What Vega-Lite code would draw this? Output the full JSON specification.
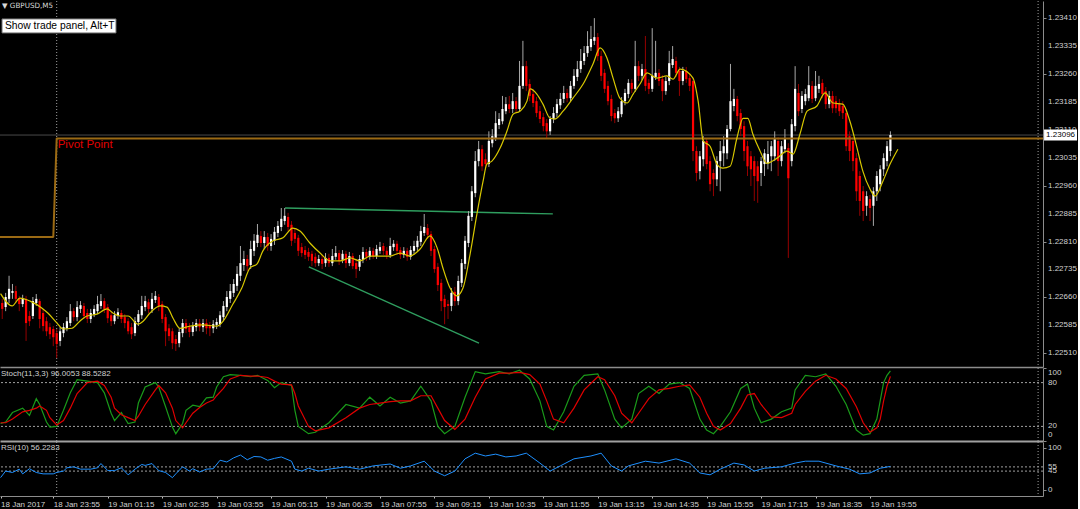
{
"$schema": "https://vega.github.io/schema/vega-lite/v6.json",
"background": "#000000",
"padding": {"left": -3, "top": 0, "right": 0, "bottom": 0},
"spacing": 1,
"bounds": "flush",
"config": {
  "view": {"stroke": "transparent"},
  "axis": {"grid": false, "domainColor": "#8c8c8c", "tickColor": "#8c8c8c", "labelColor": "#d0d0d0", "labelFont": "Liberation Sans", "labelFontSize": 8, "labelOverlap": false},
  "text": {"font": "Liberation Sans"}
},
"datasets": {
"c": [
{"n":1,"o":1.22645,"h":1.22656,"l":1.22602,"c":1.22629},
{"n":2,"o":1.22634,"h":1.22672,"l":1.22623,"c":1.22661},
{"n":3,"o":1.22656,"h":1.22718,"l":1.22645,"c":1.22683},
{"n":4,"o":1.22672,"h":1.22696,"l":1.22656,"c":1.22677},
{"n":5,"o":1.22677,"h":1.22691,"l":1.22645,"c":1.22656},
{"n":6,"o":1.22658,"h":1.22664,"l":1.22623,"c":1.22642},
{"n":7,"o":1.22642,"h":1.22667,"l":1.22634,"c":1.22656},
{"n":8,"o":1.22656,"h":1.22664,"l":1.22543,"c":1.22591},
{"n":9,"o":1.22610,"h":1.22623,"l":1.22583,"c":1.22596},
{"n":10,"o":1.22610,"h":1.22661,"l":1.22602,"c":1.22650},
{"n":11,"o":1.22645,"h":1.22669,"l":1.22637,"c":1.22656},
{"n":12,"o":1.22650,"h":1.22656,"l":1.22577,"c":1.22602},
{"n":13,"o":1.22618,"h":1.22629,"l":1.22569,"c":1.22583},
{"n":14,"o":1.22596,"h":1.22607,"l":1.22556,"c":1.22569},
{"n":15,"o":1.22580,"h":1.22591,"l":1.22548,"c":1.22561},
{"n":16,"o":1.22575,"h":1.22583,"l":1.22529,"c":1.22553},
{"n":17,"o":1.22564,"h":1.22575,"l":1.22497,"c":1.22535},
{"n":18,"o":1.22543,"h":1.22580,"l":1.22529,"c":1.22569},
{"n":19,"o":1.22564,"h":1.22591,"l":1.22553,"c":1.22580},
{"n":20,"o":1.22577,"h":1.22607,"l":1.22569,"c":1.22596},
{"n":21,"o":1.22591,"h":1.22642,"l":1.22583,"c":1.22623},
{"n":22,"o":1.22623,"h":1.22631,"l":1.22596,"c":1.22607},
{"n":23,"o":1.22607,"h":1.22650,"l":1.22596,"c":1.22634},
{"n":24,"o":1.22629,"h":1.22650,"l":1.22618,"c":1.22639},
{"n":25,"o":1.22637,"h":1.22645,"l":1.22602,"c":1.22610},
{"n":26,"o":1.22618,"h":1.22629,"l":1.22591,"c":1.22602},
{"n":27,"o":1.22602,"h":1.22629,"l":1.22591,"c":1.22618},
{"n":28,"o":1.22615,"h":1.22639,"l":1.22607,"c":1.22629},
{"n":29,"o":1.22623,"h":1.22664,"l":1.22615,"c":1.22642},
{"n":30,"o":1.22637,"h":1.22669,"l":1.22629,"c":1.22650},
{"n":31,"o":1.22650,"h":1.22658,"l":1.22618,"c":1.22629},
{"n":32,"o":1.22634,"h":1.22642,"l":1.22591,"c":1.22604},
{"n":33,"o":1.22612,"h":1.22623,"l":1.22583,"c":1.22596},
{"n":34,"o":1.22596,"h":1.22623,"l":1.22588,"c":1.22612},
{"n":35,"o":1.22610,"h":1.22631,"l":1.22602,"c":1.22620},
{"n":36,"o":1.22618,"h":1.22626,"l":1.22591,"c":1.22602},
{"n":37,"o":1.22607,"h":1.22615,"l":1.22577,"c":1.22591},
{"n":38,"o":1.22596,"h":1.22604,"l":1.22561,"c":1.22569},
{"n":39,"o":1.22580,"h":1.22591,"l":1.22548,"c":1.22561},
{"n":40,"o":1.22564,"h":1.22607,"l":1.22556,"c":1.22596},
{"n":41,"o":1.22594,"h":1.22626,"l":1.22583,"c":1.22615},
{"n":42,"o":1.22612,"h":1.22664,"l":1.22602,"c":1.22637},
{"n":43,"o":1.22634,"h":1.22664,"l":1.22623,"c":1.22650},
{"n":44,"o":1.22647,"h":1.22656,"l":1.22618,"c":1.22629},
{"n":45,"o":1.22629,"h":1.22672,"l":1.22618,"c":1.22656},
{"n":46,"o":1.22653,"h":1.22677,"l":1.22645,"c":1.22664},
{"n":47,"o":1.22661,"h":1.22669,"l":1.22623,"c":1.22637},
{"n":48,"o":1.22642,"h":1.22650,"l":1.22591,"c":1.22602},
{"n":49,"o":1.22607,"h":1.22615,"l":1.22529,"c":1.22569},
{"n":50,"o":1.22577,"h":1.22588,"l":1.22543,"c":1.22556},
{"n":51,"o":1.22569,"h":1.22577,"l":1.22521,"c":1.22537},
{"n":52,"o":1.22548,"h":1.22559,"l":1.22516,"c":1.22535},
{"n":53,"o":1.22537,"h":1.22577,"l":1.22526,"c":1.22567},
{"n":54,"o":1.22564,"h":1.22602,"l":1.22553,"c":1.22591},
{"n":55,"o":1.22591,"h":1.22602,"l":1.22564,"c":1.22575},
{"n":56,"o":1.22580,"h":1.22591,"l":1.22553,"c":1.22567},
{"n":57,"o":1.22567,"h":1.22594,"l":1.22556,"c":1.22583},
{"n":58,"o":1.22580,"h":1.22602,"l":1.22569,"c":1.22591},
{"n":59,"o":1.22591,"h":1.22602,"l":1.22569,"c":1.22580},
{"n":60,"o":1.22580,"h":1.22602,"l":1.22567,"c":1.22591},
{"n":61,"o":1.22591,"h":1.22602,"l":1.22561,"c":1.22577},
{"n":62,"o":1.22583,"h":1.22594,"l":1.22556,"c":1.22577},
{"n":63,"o":1.22577,"h":1.22599,"l":1.22564,"c":1.22588},
{"n":64,"o":1.22586,"h":1.22604,"l":1.22575,"c":1.22594},
{"n":65,"o":1.22588,"h":1.22623,"l":1.22580,"c":1.22612},
{"n":66,"o":1.22607,"h":1.22650,"l":1.22596,"c":1.22637},
{"n":67,"o":1.22634,"h":1.22677,"l":1.22623,"c":1.22661},
{"n":68,"o":1.22656,"h":1.22696,"l":1.22645,"c":1.22677},
{"n":69,"o":1.22672,"h":1.22709,"l":1.22661,"c":1.22696},
{"n":70,"o":1.22691,"h":1.22744,"l":1.22677,"c":1.22723},
{"n":71,"o":1.22718,"h":1.22798,"l":1.22704,"c":1.22752},
{"n":72,"o":1.22747,"h":1.22785,"l":1.22731,"c":1.22763},
{"n":73,"o":1.22763,"h":1.22774,"l":1.22731,"c":1.22744},
{"n":74,"o":1.22747,"h":1.22812,"l":1.22736,"c":1.22790},
{"n":75,"o":1.22785,"h":1.22830,"l":1.22771,"c":1.22812},
{"n":76,"o":1.22806,"h":1.22857,"l":1.22795,"c":1.22828},
{"n":77,"o":1.22825,"h":1.22838,"l":1.22795,"c":1.22806},
{"n":78,"o":1.22806,"h":1.22838,"l":1.22790,"c":1.22822},
{"n":79,"o":1.22822,"h":1.22833,"l":1.22785,"c":1.22798},
{"n":80,"o":1.22798,"h":1.22830,"l":1.22785,"c":1.22817},
{"n":81,"o":1.22812,"h":1.22849,"l":1.22801,"c":1.22836},
{"n":82,"o":1.22833,"h":1.22865,"l":1.22822,"c":1.22852},
{"n":83,"o":1.22849,"h":1.22900,"l":1.22838,"c":1.22871},
{"n":84,"o":1.22865,"h":1.22900,"l":1.22855,"c":1.22879},
{"n":85,"o":1.22876,"h":1.22887,"l":1.22838,"c":1.22849},
{"n":86,"o":1.22855,"h":1.22865,"l":1.22798,"c":1.22812},
{"n":87,"o":1.22833,"h":1.22844,"l":1.22806,"c":1.22817},
{"n":88,"o":1.22820,"h":1.22828,"l":1.22771,"c":1.22785},
{"n":89,"o":1.22795,"h":1.22806,"l":1.22769,"c":1.22779},
{"n":90,"o":1.22787,"h":1.22798,"l":1.22763,"c":1.22774},
{"n":91,"o":1.22782,"h":1.22793,"l":1.22758,"c":1.22769},
{"n":92,"o":1.22777,"h":1.22785,"l":1.22744,"c":1.22758},
{"n":93,"o":1.22769,"h":1.22779,"l":1.22742,"c":1.22752},
{"n":94,"o":1.22752,"h":1.22774,"l":1.22744,"c":1.22763},
{"n":95,"o":1.22763,"h":1.22774,"l":1.22736,"c":1.22750},
{"n":96,"o":1.22752,"h":1.22779,"l":1.22742,"c":1.22766},
{"n":97,"o":1.22766,"h":1.22777,"l":1.22742,"c":1.22752},
{"n":98,"o":1.22752,"h":1.22790,"l":1.22744,"c":1.22771},
{"n":99,"o":1.22769,"h":1.22798,"l":1.22761,"c":1.22779},
{"n":100,"o":1.22779,"h":1.22787,"l":1.22747,"c":1.22758},
{"n":101,"o":1.22761,"h":1.22787,"l":1.22752,"c":1.22777},
{"n":102,"o":1.22777,"h":1.22785,"l":1.22739,"c":1.22752},
{"n":103,"o":1.22752,"h":1.22782,"l":1.22744,"c":1.22771},
{"n":104,"o":1.22771,"h":1.22779,"l":1.22736,"c":1.22744},
{"n":105,"o":1.22752,"h":1.22763,"l":1.22712,"c":1.22736},
{"n":106,"o":1.22742,"h":1.22774,"l":1.22731,"c":1.22763},
{"n":107,"o":1.22761,"h":1.22795,"l":1.22752,"c":1.22782},
{"n":108,"o":1.22782,"h":1.22790,"l":1.22758,"c":1.22769},
{"n":109,"o":1.22769,"h":1.22795,"l":1.22761,"c":1.22785},
{"n":110,"o":1.22785,"h":1.22793,"l":1.22763,"c":1.22771},
{"n":111,"o":1.22771,"h":1.22801,"l":1.22763,"c":1.22790},
{"n":112,"o":1.22785,"h":1.22809,"l":1.22777,"c":1.22795},
{"n":113,"o":1.22798,"h":1.22806,"l":1.22774,"c":1.22785},
{"n":114,"o":1.22785,"h":1.22795,"l":1.22763,"c":1.22774},
{"n":115,"o":1.22774,"h":1.22820,"l":1.22766,"c":1.22798},
{"n":116,"o":1.22795,"h":1.22814,"l":1.22785,"c":1.22804},
{"n":117,"o":1.22804,"h":1.22812,"l":1.22774,"c":1.22785},
{"n":118,"o":1.22787,"h":1.22795,"l":1.22763,"c":1.22774},
{"n":119,"o":1.22774,"h":1.22795,"l":1.22766,"c":1.22785},
{"n":120,"o":1.22785,"h":1.22793,"l":1.22758,"c":1.22769},
{"n":121,"o":1.22769,"h":1.22798,"l":1.22761,"c":1.22787},
{"n":122,"o":1.22785,"h":1.22812,"l":1.22777,"c":1.22798},
{"n":123,"o":1.22795,"h":1.22825,"l":1.22785,"c":1.22812},
{"n":124,"o":1.22809,"h":1.22852,"l":1.22798,"c":1.22838},
{"n":125,"o":1.22833,"h":1.22884,"l":1.22825,"c":1.22849},
{"n":126,"o":1.22846,"h":1.22857,"l":1.22817,"c":1.22828},
{"n":127,"o":1.22830,"h":1.22838,"l":1.22771,"c":1.22785},
{"n":128,"o":1.22790,"h":1.22798,"l":1.22726,"c":1.22736},
{"n":129,"o":1.22742,"h":1.22752,"l":1.22677,"c":1.22693},
{"n":130,"o":1.22699,"h":1.22709,"l":1.22623,"c":1.22650},
{"n":131,"o":1.22656,"h":1.22667,"l":1.22588,"c":1.22634},
{"n":132,"o":1.22642,"h":1.22653,"l":1.22602,"c":1.22637},
{"n":133,"o":1.22637,"h":1.22685,"l":1.22623,"c":1.22672},
{"n":134,"o":1.22675,"h":1.22688,"l":1.22637,"c":1.22650},
{"n":135,"o":1.22650,"h":1.22718,"l":1.22639,"c":1.22704},
{"n":136,"o":1.22699,"h":1.22763,"l":1.22688,"c":1.22752},
{"n":137,"o":1.22750,"h":1.22825,"l":1.22736,"c":1.22812},
{"n":138,"o":1.22806,"h":1.22892,"l":1.22795,"c":1.22879},
{"n":139,"o":1.22876,"h":1.22959,"l":1.22865,"c":1.22945},
{"n":140,"o":1.22940,"h":1.23053,"l":1.22929,"c":1.23026},
{"n":141,"o":1.23026,"h":1.23080,"l":1.23012,"c":1.23058},
{"n":142,"o":1.23058,"h":1.23069,"l":1.22999,"c":1.23012},
{"n":143,"o":1.23031,"h":1.23047,"l":1.23004,"c":1.23018},
{"n":144,"o":1.23018,"h":1.23106,"l":1.23010,"c":1.23080},
{"n":145,"o":1.23074,"h":1.23112,"l":1.23063,"c":1.23093},
{"n":146,"o":1.23088,"h":1.23160,"l":1.23080,"c":1.23128},
{"n":147,"o":1.23123,"h":1.23155,"l":1.23112,"c":1.23139},
{"n":148,"o":1.23133,"h":1.23201,"l":1.23125,"c":1.23166},
{"n":149,"o":1.23160,"h":1.23198,"l":1.23152,"c":1.23179},
{"n":150,"o":1.23179,"h":1.23201,"l":1.23155,"c":1.23166},
{"n":151,"o":1.23166,"h":1.23209,"l":1.23155,"c":1.23187},
{"n":152,"o":1.23187,"h":1.23198,"l":1.23155,"c":1.23166},
{"n":153,"o":1.23166,"h":1.23295,"l":1.23160,"c":1.23228},
{"n":154,"o":1.23228,"h":1.23349,"l":1.23220,"c":1.23281},
{"n":155,"o":1.23281,"h":1.23295,"l":1.23214,"c":1.23228},
{"n":156,"o":1.23233,"h":1.23246,"l":1.23187,"c":1.23201},
{"n":157,"o":1.23206,"h":1.23220,"l":1.23171,"c":1.23182},
{"n":158,"o":1.23187,"h":1.23198,"l":1.23144,"c":1.23155},
{"n":159,"o":1.23160,"h":1.23174,"l":1.23128,"c":1.23139},
{"n":160,"o":1.23144,"h":1.23155,"l":1.23106,"c":1.23120},
{"n":161,"o":1.23128,"h":1.23139,"l":1.23088,"c":1.23106},
{"n":162,"o":1.23106,"h":1.23147,"l":1.23096,"c":1.23139},
{"n":163,"o":1.23139,"h":1.23171,"l":1.23128,"c":1.23155},
{"n":164,"o":1.23155,"h":1.23193,"l":1.23144,"c":1.23179},
{"n":165,"o":1.23176,"h":1.23209,"l":1.23166,"c":1.23193},
{"n":166,"o":1.23193,"h":1.23228,"l":1.23182,"c":1.23209},
{"n":167,"o":1.23209,"h":1.23220,"l":1.23184,"c":1.23195},
{"n":168,"o":1.23195,"h":1.23241,"l":1.23187,"c":1.23228},
{"n":169,"o":1.23228,"h":1.23273,"l":1.23220,"c":1.23255},
{"n":170,"o":1.23252,"h":1.23295,"l":1.23241,"c":1.23273},
{"n":171,"o":1.23273,"h":1.23327,"l":1.23263,"c":1.23295},
{"n":172,"o":1.23295,"h":1.23335,"l":1.23284,"c":1.23316},
{"n":173,"o":1.23316,"h":1.23375,"l":1.23306,"c":1.23335},
{"n":174,"o":1.23332,"h":1.23389,"l":1.23322,"c":1.23354},
{"n":175,"o":1.23349,"h":1.23410,"l":1.23338,"c":1.23359},
{"n":176,"o":1.23359,"h":1.23370,"l":1.23295,"c":1.23308},
{"n":177,"o":1.23308,"h":1.23322,"l":1.23241,"c":1.23255},
{"n":178,"o":1.23263,"h":1.23273,"l":1.23209,"c":1.23220},
{"n":179,"o":1.23228,"h":1.23241,"l":1.23176,"c":1.23187},
{"n":180,"o":1.23193,"h":1.23204,"l":1.23133,"c":1.23147},
{"n":181,"o":1.23155,"h":1.23166,"l":1.23128,"c":1.23141},
{"n":182,"o":1.23141,"h":1.23171,"l":1.23131,"c":1.23160},
{"n":183,"o":1.23152,"h":1.23198,"l":1.23144,"c":1.23187},
{"n":184,"o":1.23187,"h":1.23220,"l":1.23176,"c":1.23209},
{"n":185,"o":1.23206,"h":1.23246,"l":1.23195,"c":1.23236},
{"n":186,"o":1.23236,"h":1.23246,"l":1.23209,"c":1.23220},
{"n":187,"o":1.23220,"h":1.23349,"l":1.23212,"c":1.23281},
{"n":188,"o":1.23281,"h":1.23295,"l":1.23241,"c":1.23255},
{"n":189,"o":1.23255,"h":1.23287,"l":1.23244,"c":1.23273},
{"n":190,"o":1.23273,"h":1.23362,"l":1.23214,"c":1.23228},
{"n":191,"o":1.23236,"h":1.23246,"l":1.23206,"c":1.23220},
{"n":192,"o":1.23220,"h":1.23383,"l":1.23212,"c":1.23255},
{"n":193,"o":1.23252,"h":1.23349,"l":1.23244,"c":1.23263},
{"n":194,"o":1.23263,"h":1.23273,"l":1.23228,"c":1.23241},
{"n":195,"o":1.23246,"h":1.23257,"l":1.23187,"c":1.23214},
{"n":196,"o":1.23214,"h":1.23252,"l":1.23204,"c":1.23241},
{"n":197,"o":1.23241,"h":1.23322,"l":1.23230,"c":1.23289},
{"n":198,"o":1.23284,"h":1.23335,"l":1.23276,"c":1.23300},
{"n":199,"o":1.23295,"h":1.23306,"l":1.23252,"c":1.23263},
{"n":200,"o":1.23268,"h":1.23279,"l":1.23201,"c":1.23241},
{"n":201,"o":1.23241,"h":1.23279,"l":1.23230,"c":1.23268},
{"n":202,"o":1.23268,"h":1.23279,"l":1.23236,"c":1.23246},
{"n":203,"o":1.23249,"h":1.23260,"l":1.23214,"c":1.23228},
{"n":204,"o":1.23241,"h":1.23249,"l":1.23026,"c":1.23053},
{"n":205,"o":1.23053,"h":1.23066,"l":1.22972,"c":1.22994},
{"n":206,"o":1.22999,"h":1.23053,"l":1.22977,"c":1.23039},
{"n":207,"o":1.23031,"h":1.23093,"l":1.23012,"c":1.23080},
{"n":208,"o":1.23080,"h":1.23085,"l":1.23004,"c":1.23018},
{"n":209,"o":1.23026,"h":1.23039,"l":1.22945,"c":1.22964},
{"n":210,"o":1.22994,"h":1.23004,"l":1.22932,"c":1.22977},
{"n":211,"o":1.22977,"h":1.23039,"l":1.22959,"c":1.23026},
{"n":212,"o":1.23026,"h":1.23080,"l":1.22945,"c":1.23053},
{"n":213,"o":1.23047,"h":1.23093,"l":1.23012,"c":1.23066},
{"n":214,"o":1.23047,"h":1.23123,"l":1.23031,"c":1.23112},
{"n":215,"o":1.23112,"h":1.23287,"l":1.23106,"c":1.23187},
{"n":216,"o":1.23174,"h":1.23220,"l":1.23160,"c":1.23193},
{"n":217,"o":1.23193,"h":1.23201,"l":1.23133,"c":1.23147},
{"n":218,"o":1.23155,"h":1.23166,"l":1.23093,"c":1.23112},
{"n":219,"o":1.23120,"h":1.23133,"l":1.23026,"c":1.23053},
{"n":220,"o":1.23066,"h":1.23080,"l":1.22986,"c":1.23012},
{"n":221,"o":1.23039,"h":1.23053,"l":1.22959,"c":1.23004},
{"n":222,"o":1.23026,"h":1.23039,"l":1.22919,"c":1.22986},
{"n":223,"o":1.23012,"h":1.23026,"l":1.22914,"c":1.22972},
{"n":224,"o":1.22994,"h":1.23037,"l":1.22959,"c":1.23026},
{"n":225,"o":1.23018,"h":1.23058,"l":1.22986,"c":1.23047},
{"n":226,"o":1.23020,"h":1.23080,"l":1.23004,"c":1.23045},
{"n":227,"o":1.23039,"h":1.23080,"l":1.22999,"c":1.23066},
{"n":228,"o":1.23039,"h":1.23106,"l":1.23026,"c":1.23085},
{"n":229,"o":1.23080,"h":1.23090,"l":1.22986,"c":1.23026},
{"n":230,"o":1.23026,"h":1.23080,"l":1.23012,"c":1.23066},
{"n":231,"o":1.23058,"h":1.23112,"l":1.23047,"c":1.23088},
{"n":232,"o":1.23061,"h":1.23074,"l":1.22766,"c":1.22980},
{"n":233,"o":1.23026,"h":1.23139,"l":1.23012,"c":1.23125},
{"n":234,"o":1.23120,"h":1.23281,"l":1.23106,"c":1.23220},
{"n":235,"o":1.23209,"h":1.23233,"l":1.23147,"c":1.23160},
{"n":236,"o":1.23166,"h":1.23214,"l":1.23155,"c":1.23201},
{"n":237,"o":1.23187,"h":1.23220,"l":1.23176,"c":1.23206},
{"n":238,"o":1.23195,"h":1.23281,"l":1.23187,"c":1.23230},
{"n":239,"o":1.23228,"h":1.23241,"l":1.23182,"c":1.23193},
{"n":240,"o":1.23195,"h":1.23268,"l":1.23187,"c":1.23228},
{"n":241,"o":1.23220,"h":1.23255,"l":1.23209,"c":1.23233},
{"n":242,"o":1.23236,"h":1.23246,"l":1.23195,"c":1.23206},
{"n":243,"o":1.23214,"h":1.23225,"l":1.23166,"c":1.23179},
{"n":244,"o":1.23179,"h":1.23214,"l":1.23168,"c":1.23201},
{"n":245,"o":1.23201,"h":1.23214,"l":1.23155,"c":1.23168},
{"n":246,"o":1.23187,"h":1.23201,"l":1.23155,"c":1.23168},
{"n":247,"o":1.23179,"h":1.23193,"l":1.23147,"c":1.23160},
{"n":248,"o":1.23174,"h":1.23187,"l":1.23139,"c":1.23155},
{"n":249,"o":1.23155,"h":1.23166,"l":1.23053,"c":1.23066},
{"n":250,"o":1.23093,"h":1.23106,"l":1.23026,"c":1.23053},
{"n":251,"o":1.23080,"h":1.23090,"l":1.22999,"c":1.23026},
{"n":252,"o":1.23034,"h":1.23047,"l":1.22919,"c":1.22945},
{"n":253,"o":1.22986,"h":1.22999,"l":1.22879,"c":1.22919},
{"n":254,"o":1.22945,"h":1.22959,"l":1.22865,"c":1.22892},
{"n":255,"o":1.22906,"h":1.22945,"l":1.22879,"c":1.22932},
{"n":256,"o":1.22924,"h":1.22935,"l":1.22865,"c":1.22900},
{"n":257,"o":1.22906,"h":1.22956,"l":1.22852,"c":1.22945},
{"n":258,"o":1.22945,"h":1.22999,"l":1.22919,"c":1.22986},
{"n":259,"o":1.22964,"h":1.23015,"l":1.22945,"c":1.23004},
{"n":260,"o":1.23004,"h":1.23047,"l":1.22986,"c":1.23034},
{"n":261,"o":1.23026,"h":1.23080,"l":1.23012,"c":1.23066},
{"n":262,"o":1.23053,"h":1.23106,"l":1.23039,"c":1.23096}
],
"ma": [
{"n":0.5,"p":1.22670},{"n":3.9,"p":1.22637},{"n":6.2,"p":1.22658},{"n":9.2,"p":1.2265},{"n":12.7,"p":1.22631},{"n":14.4,"p":1.22618},{"n":17.1,"p":1.22591},{"n":18.9,"p":1.22575},{"n":21.5,"p":1.22577},{"n":23.8,"p":1.22596},{"n":25.9,"p":1.2261},{"n":28.8,"p":1.22615},{"n":31.8,"p":1.22629},{"n":33.5,"p":1.22618},{"n":35.6,"p":1.2261},{"n":38,"p":1.2261},{"n":40.9,"p":1.22588},{"n":42.4,"p":1.22596},{"n":44.4,"p":1.22618},{"n":47.4,"p":1.22637},{"n":49.4,"p":1.22634},{"n":51.2,"p":1.22604},{"n":53.2,"p":1.22577},{"n":56.2,"p":1.22583},{"n":60,"p":1.22586},{"n":64.1,"p":1.22583},{"n":65.9,"p":1.22596},{"n":68.8,"p":1.22642},{"n":71.4,"p":1.22685},{"n":73.8,"p":1.22739},{"n":75.9,"p":1.2275},{"n":77.6,"p":1.22785},{"n":80.6,"p":1.22812},{"n":83.5,"p":1.2282},{"n":86.4,"p":1.22846},{"n":88.5,"p":1.22838},{"n":91.4,"p":1.22806},{"n":94.4,"p":1.22779},{"n":97.3,"p":1.22758},{"n":100.3,"p":1.22758},{"n":103.2,"p":1.22766},{"n":106.1,"p":1.22758},{"n":109.1,"p":1.22771},{"n":115,"p":1.22771},{"n":117.9,"p":1.22779},{"n":120.8,"p":1.22771},{"n":123.8,"p":1.2279},{"n":126.7,"p":1.22825},{"n":128.8,"p":1.22793},{"n":130.5,"p":1.22739},{"n":132.6,"p":1.22685},{"n":134.6,"p":1.22664},{"n":136.4,"p":1.22685},{"n":138.5,"p":1.22777},{"n":140.5,"p":1.22884},{"n":142.3,"p":1.22972},{"n":143.4,"p":1.23018},{"n":144.9,"p":1.23026},{"n":147.3,"p":1.23061},{"n":149.3,"p":1.23106},{"n":151.1,"p":1.23152},{"n":153.1,"p":1.2316},{"n":155.2,"p":1.23187},{"n":156.1,"p":1.2322},{"n":158.1,"p":1.23206},{"n":159.9,"p":1.23179},{"n":162,"p":1.23141},{"n":163.4,"p":1.23139},{"n":165.8,"p":1.2316},{"n":168.7,"p":1.23195},{"n":171.7,"p":1.23233},{"n":174.6,"p":1.23287},{"n":176.7,"p":1.2333},{"n":178.7,"p":1.23303},{"n":180.5,"p":1.23249},{"n":182.5,"p":1.23195},{"n":184.6,"p":1.23182},{"n":186.4,"p":1.23206},{"n":188.4,"p":1.23233},{"n":190.5,"p":1.23263},{"n":193.4,"p":1.23249},{"n":196.3,"p":1.23255},{"n":198.1,"p":1.23246},{"n":200.2,"p":1.23273},{"n":204,"p":1.23249},{"n":205.5,"p":1.23187},{"n":207,"p":1.2308},{"n":209,"p":1.23066},{"n":211,"p":1.23018},{"n":212.8,"p":1.23007},{"n":214.9,"p":1.23012},{"n":216.9,"p":1.23088},{"n":218.7,"p":1.23141},{"n":220.1,"p":1.23141},{"n":221.6,"p":1.23098},{"n":223.7,"p":1.23053},{"n":225.7,"p":1.2302},{"n":228.7,"p":1.23034},{"n":231.6,"p":1.23053},{"n":233.4,"p":1.23045},{"n":235.4,"p":1.23098},{"n":237.5,"p":1.2316},{"n":240.4,"p":1.23174},{"n":242.8,"p":1.23209},{"n":245.1,"p":1.23182},{"n":248,"p":1.23179},{"n":250.1,"p":1.23133},{"n":252.2,"p":1.23061},{"n":253.9,"p":1.22999},{"n":256,"p":1.22951},{"n":257.5,"p":1.22932},{"n":259.8,"p":1.22972},{"n":261.9,"p":1.23018},{"n":264.2,"p":1.23058}
],
"st": [
{"n":0.5,"k":24,"d":25},{"n":2,"k":26,"d":25},{"n":4,"k":39,"d":30},{"n":7,"k":45,"d":40},{"n":9,"k":35,"d":42},{"n":11,"k":58,"d":45},{"n":12,"k":50,"d":48},{"n":14,"k":26,"d":42},{"n":15,"k":19,"d":32},{"n":17,"k":20,"d":22},{"n":19,"k":42,"d":28},{"n":21,"k":66,"d":45},{"n":23,"k":84,"d":65},{"n":26,"k":82,"d":80},{"n":29,"k":80,"d":82},{"n":31,"k":66,"d":76},{"n":33,"k":38,"d":60},{"n":34,"k":28,"d":45},{"n":36,"k":39,"d":36},{"n":38,"k":24,"d":32},{"n":40,"k":26,"d":28},{"n":41,"k":52,"d":34},{"n":43,"k":74,"d":50},{"n":46,"k":80,"d":70},{"n":47,"k":74,"d":76},{"n":49,"k":47,"d":66},{"n":51,"k":19,"d":45},{"n":52,"k":10,"d":28},{"n":54,"k":24,"d":18},{"n":55,"k":42,"d":25},{"n":57,"k":49,"d":38},{"n":59,"k":47,"d":46},{"n":61,"k":59,"d":52},{"n":63,"k":60,"d":56},{"n":64,"k":74,"d":62},{"n":66,"k":88,"d":72},{"n":68,"k":91,"d":85},{"n":71,"k":90,"d":90},{"n":74,"k":88,"d":89},{"n":76,"k":90,"d":89},{"n":79,"k":83,"d":87},{"n":81,"k":73,"d":82},{"n":83,"k":80,"d":78},{"n":86,"k":76,"d":77},{"n":87,"k":42,"d":65},{"n":88,"k":20,"d":48},{"n":91,"k":10,"d":20},{"n":93,"k":12,"d":14},{"n":97,"k":25,"d":18},{"n":102,"k":50,"d":32},{"n":106,"k":45,"d":45},{"n":109,"k":60,"d":50},{"n":112,"k":48,"d":52},{"n":115,"k":60,"d":54},{"n":118,"k":52,"d":55},{"n":121,"k":55,"d":55},{"n":124,"k":75,"d":62},{"n":127,"k":55,"d":62},{"n":129,"k":20,"d":45},{"n":131,"k":10,"d":28},{"n":134,"k":20,"d":16},{"n":137,"k":60,"d":30},{"n":140,"k":95,"d":60},{"n":143,"k":92,"d":85},{"n":147,"k":95,"d":93},{"n":150,"k":92,"d":93},{"n":153,"k":97,"d":94},{"n":156,"k":85,"d":91},{"n":159,"k":55,"d":78},{"n":161,"k":20,"d":55},{"n":163,"k":15,"d":30},{"n":166,"k":40,"d":25},{"n":169,"k":75,"d":45},{"n":172,"k":90,"d":70},{"n":176,"k":92,"d":88},{"n":178,"k":70,"d":84},{"n":181,"k":30,"d":62},{"n":183,"k":18,"d":38},{"n":186,"k":30,"d":25},{"n":188,"k":65,"d":38},{"n":191,"k":75,"d":58},{"n":194,"k":65,"d":70},{"n":197,"k":78,"d":72},{"n":200,"k":80,"d":75},{"n":203,"k":72,"d":77},{"n":206,"k":30,"d":60},{"n":208,"k":15,"d":38},{"n":210,"k":10,"d":20},{"n":212,"k":20,"d":15},{"n":215,"k":40,"d":24},{"n":218,"k":72,"d":45},{"n":220,"k":78,"d":63},{"n":222,"k":45,"d":65},{"n":224,"k":25,"d":50},{"n":227,"k":30,"d":33},{"n":230,"k":40,"d":32},{"n":233,"k":45,"d":38},{"n":234,"k":70,"d":50},{"n":237,"k":90,"d":68},{"n":240,"k":88,"d":82},{"n":243,"k":92,"d":90},{"n":246,"k":75,"d":85},{"n":249,"k":50,"d":72},{"n":252,"k":15,"d":47},{"n":254,"k":8,"d":25},{"n":256,"k":10,"d":12},{"n":258,"k":30,"d":18},{"n":259,"k":55,"d":30},{"n":260,"k":80,"d":55},{"n":261,"k":90,"d":75},{"n":262,"k":96.0053,"d":88.5282}
],
"rs": [
{"n":0.5,"r":29.4},{"n":2,"r":45.1},{"n":4,"r":41.7},{"n":6,"r":49.6},{"n":7,"r":38.4},{"n":9,"r":50.7},{"n":11,"r":41.7},{"n":13,"r":38.4},{"n":16,"r":38.4},{"n":17,"r":41.7},{"n":19,"r":45.1},{"n":20,"r":52.9},{"n":22,"r":55.2},{"n":24,"r":49.6},{"n":27,"r":49.6},{"n":29,"r":52.9},{"n":30,"r":63.0},{"n":32,"r":46.2},{"n":34,"r":46.2},{"n":36,"r":52.9},{"n":38,"r":36.1},{"n":40,"r":49.6},{"n":42,"r":60.8},{"n":43,"r":58.5},{"n":45,"r":63.0},{"n":47,"r":46.2},{"n":49,"r":41.7},{"n":51,"r":29.4},{"n":52,"r":38.4},{"n":54,"r":55.2},{"n":56,"r":45.1},{"n":57,"r":50.7},{"n":59,"r":42.9},{"n":61,"r":49.6},{"n":63,"r":50.7},{"n":65,"r":70.9},{"n":67,"r":66.7},{"n":69,"r":76.5},{"n":71,"r":83.2},{"n":73,"r":72.0},{"n":75,"r":79.8},{"n":77,"r":78.7},{"n":79,"r":70.9},{"n":81,"r":75.3},{"n":83,"r":78.7},{"n":86,"r":68.6},{"n":87,"r":49.6},{"n":89,"r":45.1},{"n":91,"r":51.8},{"n":94,"r":45.1},{"n":97,"r":49.6},{"n":102,"r":55.2},{"n":106,"r":49.6},{"n":110,"r":57.4},{"n":115,"r":61.9},{"n":118,"r":51.8},{"n":121,"r":57.4},{"n":125,"r":68.6},{"n":128,"r":45.1},{"n":131,"r":33.9},{"n":134,"r":45.1},{"n":137,"r":74.2},{"n":140,"r":87.7},{"n":143,"r":81.0},{"n":146,"r":85.4},{"n":149,"r":78.7},{"n":152,"r":81.0},{"n":155,"r":87.7},{"n":159,"r":64.1},{"n":162,"r":45.1},{"n":165,"r":57.4},{"n":169,"r":74.2},{"n":174,"r":81.0},{"n":177,"r":87.7},{"n":180,"r":57.4},{"n":183,"r":45.1},{"n":185,"r":57.4},{"n":190,"r":68.6},{"n":194,"r":64.1},{"n":199,"r":74.2},{"n":203,"r":64.1},{"n":206,"r":40.6},{"n":209,"r":36.1},{"n":212,"r":49.6},{"n":216,"r":64.1},{"n":219,"r":59.7},{"n":222,"r":45.1},{"n":225,"r":51.8},{"n":230,"r":55.2},{"n":234,"r":64.1},{"n":237,"r":68.6},{"n":241,"r":68.6},{"n":246,"r":57.4},{"n":250,"r":49.6},{"n":253,"r":38.4},{"n":256,"r":40.6},{"n":259,"r":51.8},{"n":262,"r":56.2283}
]
},
"vconcat": [
{
 "width": 1043, "height": 366,
 "layer": [
  {"data": {"values": [{"p": 1.23096}]},
   "mark": {"type": "rule", "color": "#4a4a4a", "strokeWidth": 1},
   "encoding": {"y": {"field": "p", "type": "quantitative", "title": null,
     "scale": {"domain": [1.22473, 1.23456], "nice": false, "zero": false},
     "axis": {"orient": "right", "values": [1.2251, 1.22585, 1.2266, 1.22735, 1.2281, 1.22885, 1.2296, 1.23035, 1.2311, 1.23185, 1.2326, 1.23335, 1.2341], "labels": false, "tickSize": 3, "title": null}}}},
  {"data": {"values": [{"n": 17}, {"n": 305.4}]},
   "mark": {"type": "rule", "color": "#a0a0a0", "strokeDash": [1, 2], "strokeWidth": 1},
   "encoding": {"x": {"field": "n", "type": "quantitative", "title": null,
     "scale": {"domain": [0.34, 306.84], "nice": false, "zero": false},
     "axis": {"orient": "bottom", "labels": false, "ticks": false, "domainWidth": 1.5, "title": null}}}},
  {"data": {"values": [{"n": 84.1, "p": 1.229, "n2": 162.8, "p2": 1.22884}, {"n": 91.1, "p": 1.22742, "n2": 141.1, "p2": 1.22537}]},
   "mark": {"type": "rule", "color": "#2f9e5f", "strokeWidth": 1.3},
   "encoding": {
     "x": {"field": "n", "type": "quantitative", "title": null, "scale": {"domain": [0.34, 306.84], "nice": false, "zero": false}},
     "x2": {"field": "n2"},
     "y": {"field": "p", "type": "quantitative", "title": null, "scale": {"domain": [1.22473, 1.23456], "nice": false, "zero": false}},
     "y2": {"field": "p2"}}},
  {"data": {"name": "c"},
   "mark": {"type": "rule", "strokeWidth": 1},
   "encoding": {
     "x": {"field": "n", "type": "quantitative", "title": null, "scale": {"domain": [0.34, 306.84], "nice": false, "zero": false}},
     "y": {"field": "l", "type": "quantitative", "title": null, "scale": {"domain": [1.22473, 1.23456], "nice": false, "zero": false}},
     "y2": {"field": "h"},
     "color": {"condition": {"test": "datum.c >= datum.o", "value": "#a8a8a8"}, "value": "#960000"}}},
  {"data": {"name": "c"},
   "mark": {"type": "rule", "strokeWidth": 2.2},
   "encoding": {
     "x": {"field": "n", "type": "quantitative", "title": null, "scale": {"domain": [0.34, 306.84], "nice": false, "zero": false}},
     "y": {"field": "o", "type": "quantitative", "title": null, "scale": {"domain": [1.22473, 1.23456], "nice": false, "zero": false}},
     "y2": {"field": "c"},
     "color": {"condition": {"test": "datum.c >= datum.o", "value": "#ffffff"}, "value": "#ff0000"}}},
  {"data": {"values": [{"n": 0.34, "p": 1.22822}, {"n": 16, "p": 1.22822}, {"n": 17, "p": 1.23087}, {"n": 306.84, "p": 1.23087}]},
   "mark": {"type": "line", "color": "#9b6a14", "strokeWidth": 2, "strokeJoin": "bevel"},
   "encoding": {
     "x": {"field": "n", "type": "quantitative", "title": null, "scale": {"domain": [0.34, 306.84], "nice": false, "zero": false}},
     "y": {"field": "p", "type": "quantitative", "title": null, "scale": {"domain": [1.22473, 1.23456], "nice": false, "zero": false}}}},
  {"data": {"name": "ma"},
   "mark": {"type": "line", "color": "#d8c800", "strokeWidth": 1.2, "interpolate": "monotone"},
   "encoding": {
     "x": {"field": "n", "type": "quantitative", "title": null, "scale": {"domain": [0.34, 306.84], "nice": false, "zero": false}},
     "y": {"field": "p", "type": "quantitative", "title": null, "scale": {"domain": [1.22473, 1.23456], "nice": false, "zero": false}}}},
  {"data": {"values": [{"n": 17, "p": 1.23087, "t": "Pivot Point"}]},
   "mark": {"type": "text", "align": "left", "baseline": "top", "dx": 1, "dy": 1, "fontSize": 11.5, "color": "#e00000"},
   "encoding": {
     "x": {"field": "n", "type": "quantitative", "title": null, "scale": {"domain": [0.34, 306.84], "nice": false, "zero": false}},
     "y": {"field": "p", "type": "quantitative", "title": null, "scale": {"domain": [1.22473, 1.23456], "nice": false, "zero": false}},
     "text": {"field": "t"}}},
  {"data": {"values": [{"n": 0.34, "p": 1.23456, "t": "▼ GBPUSD,M5"}]},
   "mark": {"type": "text", "align": "left", "baseline": "top", "dx": 2, "dy": 1, "font": "DejaVu Sans", "fontSize": 7.2, "color": "#d8d8d8"},
   "encoding": {
     "x": {"field": "n", "type": "quantitative", "title": null, "scale": {"domain": [0.34, 306.84], "nice": false, "zero": false}},
     "y": {"field": "p", "type": "quantitative", "title": null, "scale": {"domain": [1.22473, 1.23456], "nice": false, "zero": false}},
     "text": {"field": "t"}}},
  {"data": {"values": [{"n": 17.68, "p": 1.23389}]},
   "mark": {"type": "point", "shape": "M-1,-0.123H1V0.123H-1Z", "size": 12996, "filled": true, "fill": "#ffffff", "stroke": "#6e6e6e", "strokeWidth": 1, "opacity": 1},
   "encoding": {
     "x": {"field": "n", "type": "quantitative", "title": null, "scale": {"domain": [0.34, 306.84], "nice": false, "zero": false}},
     "y": {"field": "p", "type": "quantitative", "title": null, "scale": {"domain": [1.22473, 1.23456], "nice": false, "zero": false}}}},
  {"data": {"values": [{"n": 0.34, "p": 1.23389, "t": "Show trade panel, Alt+T"}]},
   "mark": {"type": "text", "align": "left", "baseline": "middle", "dx": 5, "fontSize": 10.3, "color": "#000000"},
   "encoding": {
     "x": {"field": "n", "type": "quantitative", "title": null, "scale": {"domain": [0.34, 306.84], "nice": false, "zero": false}},
     "y": {"field": "p", "type": "quantitative", "title": null, "scale": {"domain": [1.22473, 1.23456], "nice": false, "zero": false}},
     "text": {"field": "t"}}},
  {"data": {"values": [{"p": 1.2251}, {"p": 1.22585}, {"p": 1.2266}, {"p": 1.22735}, {"p": 1.2281}, {"p": 1.22885}, {"p": 1.2296}, {"p": 1.23035}, {"p": 1.2311}, {"p": 1.23185}, {"p": 1.2326}, {"p": 1.23335}, {"p": 1.2341}]},
   "mark": {"type": "text", "align": "left", "baseline": "middle", "dx": 5, "fontSize": 8, "color": "#d0d0d0"},
   "encoding": {
     "x": {"datum": 306.84, "type": "quantitative", "scale": {"domain": [0.34, 306.84], "nice": false, "zero": false}},
     "y": {"field": "p", "type": "quantitative", "title": null, "scale": {"domain": [1.22473, 1.23456], "nice": false, "zero": false}},
     "text": {"field": "p", "type": "quantitative", "format": ".5f"}}},
  {"data": {"values": [{"n": 312.0, "p": 1.23096}]},
   "mark": {"type": "point", "shape": "M-1,-0.33H1V0.33H-1Z", "size": 1089, "filled": true, "fill": "#ffffff", "opacity": 1},
   "encoding": {
     "x": {"field": "n", "type": "quantitative", "title": null, "scale": {"domain": [0.34, 306.84], "nice": false, "zero": false}},
     "y": {"field": "p", "type": "quantitative", "title": null, "scale": {"domain": [1.22473, 1.23456], "nice": false, "zero": false}}}},
  {"data": {"values": [{"n": 312.0, "p": 1.23096, "t": "1.23096"}]},
   "mark": {"type": "text", "align": "center", "baseline": "middle", "fontSize": 8, "color": "#000000"},
   "encoding": {
     "x": {"field": "n", "type": "quantitative", "title": null, "scale": {"domain": [0.34, 306.84], "nice": false, "zero": false}},
     "y": {"field": "p", "type": "quantitative", "title": null, "scale": {"domain": [1.22473, 1.23456], "nice": false, "zero": false}},
     "text": {"field": "t"}}}
 ]
},
{
 "width": 1043, "height": 73,
 "layer": [
  {"data": {"values": [{"v": 20}, {"v": 80}]},
   "mark": {"type": "rule", "color": "#a0a0a0", "strokeDash": [2, 2], "strokeWidth": 1},
   "encoding": {"y": {"field": "v", "type": "quantitative", "title": null,
     "scale": {"domain": [0, 100], "nice": false, "zero": false},
     "axis": {"orient": "right", "values": [0, 20, 80, 100], "labels": false, "tickSize": 3, "title": null}}}},
  {"data": {"values": [{"n": 17}, {"n": 305.4}]},
   "mark": {"type": "rule", "color": "#a0a0a0", "strokeDash": [1, 2], "strokeWidth": 1},
   "encoding": {"x": {"field": "n", "type": "quantitative", "title": null,
     "scale": {"domain": [0.34, 306.84], "nice": false, "zero": false},
     "axis": {"orient": "bottom", "labels": false, "ticks": false, "domainWidth": 2, "domainColor": "#a0a0a0", "title": null}}}},
  {"data": {"name": "st"},
   "mark": {"type": "line", "color": "#1a9a1a", "strokeWidth": 1.2},
   "encoding": {
     "x": {"field": "n", "type": "quantitative", "title": null, "scale": {"domain": [0.34, 306.84], "nice": false, "zero": false}},
     "y": {"field": "k", "type": "quantitative", "title": null, "scale": {"domain": [0, 100], "nice": false, "zero": false}}}},
  {"data": {"name": "st"},
   "mark": {"type": "line", "color": "#e00000", "strokeWidth": 1.2},
   "encoding": {
     "x": {"field": "n", "type": "quantitative", "title": null, "scale": {"domain": [0.34, 306.84], "nice": false, "zero": false}},
     "y": {"field": "d", "type": "quantitative", "title": null, "scale": {"domain": [0, 100], "nice": false, "zero": false}}}},
  {"data": {"values": [{"n": 0.34, "v": 100, "t": "Stoch(11,3,3) 96.0053 88.5282"}]},
   "mark": {"type": "text", "align": "left", "baseline": "top", "dx": 1, "dy": 2, "fontSize": 8, "color": "#d0d0d0"},
   "encoding": {
     "x": {"field": "n", "type": "quantitative", "title": null, "scale": {"domain": [0.34, 306.84], "nice": false, "zero": false}},
     "y": {"field": "v", "type": "quantitative", "title": null, "scale": {"domain": [0, 100], "nice": false, "zero": false}},
     "text": {"field": "t"}}},
  {"data": {"values": [{"v": 20}, {"v": 80}]},
   "mark": {"type": "text", "align": "left", "baseline": "middle", "dx": 5, "fontSize": 8, "color": "#d0d0d0"},
   "encoding": {
     "x": {"datum": 306.84, "type": "quantitative", "scale": {"domain": [0.34, 306.84], "nice": false, "zero": false}},
     "y": {"field": "v", "type": "quantitative", "title": null, "scale": {"domain": [0, 100], "nice": false, "zero": false}},
     "text": {"field": "v", "type": "quantitative"}}},
  {"data": {"values": [{"v": 100}]},
   "mark": {"type": "text", "align": "left", "baseline": "top", "dx": 5, "dy": 1, "fontSize": 8, "color": "#d0d0d0"},
   "encoding": {
     "x": {"datum": 306.84, "type": "quantitative", "scale": {"domain": [0.34, 306.84], "nice": false, "zero": false}},
     "y": {"field": "v", "type": "quantitative", "title": null, "scale": {"domain": [0, 100], "nice": false, "zero": false}},
     "text": {"field": "v", "type": "quantitative"}}},
  {"data": {"values": [{"v": 0}]},
   "mark": {"type": "text", "align": "left", "baseline": "bottom", "dx": 5, "dy": -2, "fontSize": 8, "color": "#d0d0d0"},
   "encoding": {
     "x": {"datum": 306.84, "type": "quantitative", "scale": {"domain": [0.34, 306.84], "nice": false, "zero": false}},
     "y": {"field": "v", "type": "quantitative", "title": null, "scale": {"domain": [0, 100], "nice": false, "zero": false}},
     "text": {"field": "v", "type": "quantitative"}}}
 ]
},
{
 "width": 1043, "height": 54,
 "layer": [
  {"data": {"values": [{"v": 45}, {"v": 55}]},
   "mark": {"type": "rule", "color": "#a0a0a0", "strokeDash": [2, 2], "strokeWidth": 1},
   "encoding": {"y": {"field": "v", "type": "quantitative", "title": null,
     "scale": {"domain": [-14.3, 114.3], "nice": false, "zero": false},
     "axis": {"orient": "right", "values": [0, 45, 55, 100], "labels": false, "tickSize": 3, "title": null}}}},
  {"data": {"values": [{"n": 17}, {"n": 305.4}]},
   "mark": {"type": "rule", "color": "#a0a0a0", "strokeDash": [1, 2], "strokeWidth": 1},
   "encoding": {"x": {"field": "n", "type": "quantitative", "title": null,
     "scale": {"domain": [0.34, 306.84], "nice": false, "zero": false},
     "axis": {"orient": "bottom", "values": [0.5, 16, 32, 48, 64, 80, 96, 112, 128, 144, 160, 176, 192, 208, 224, 240, 256],
       "labelExpr": "['18 Jan 2017','18 Jan 23:55','19 Jan 01:15','19 Jan 02:35','19 Jan 03:55','19 Jan 05:15','19 Jan 06:35','19 Jan 07:55','19 Jan 09:15','19 Jan 10:35','19 Jan 11:55','19 Jan 13:15','19 Jan 14:35','19 Jan 15:55','19 Jan 17:15','19 Jan 18:35','19 Jan 19:55'][round(datum.value/16)]",
       "labelAlign": "left", "labelPadding": 2, "tickSize": 2, "tickColor": "#c0c0c0", "domainWidth": 1, "labelFlush": false, "labelBound": false, "labelOverlap": false, "title": null}}}},
  {"data": {"name": "rs"},
   "mark": {"type": "line", "color": "#1e90ff", "strokeWidth": 1},
   "encoding": {
     "x": {"field": "n", "type": "quantitative", "title": null, "scale": {"domain": [0.34, 306.84], "nice": false, "zero": false}},
     "y": {"field": "r", "type": "quantitative", "title": null, "scale": {"domain": [-14.3, 114.3], "nice": false, "zero": false}}}},
  {"data": {"values": [{"n": 0.34, "v": 114.3, "t": "RSI(10) 56.2283"}]},
   "mark": {"type": "text", "align": "left", "baseline": "top", "dx": 1, "dy": 2, "fontSize": 8, "color": "#d0d0d0"},
   "encoding": {
     "x": {"field": "n", "type": "quantitative", "title": null, "scale": {"domain": [0.34, 306.84], "nice": false, "zero": false}},
     "y": {"field": "v", "type": "quantitative", "title": null, "scale": {"domain": [-14.3, 114.3], "nice": false, "zero": false}},
     "text": {"field": "t"}}},
  {"data": {"values": [{"v": 0}, {"v": 45}, {"v": 55}, {"v": 100}]},
   "mark": {"type": "text", "align": "left", "baseline": "middle", "dx": 5, "fontSize": 8, "color": "#d0d0d0"},
   "encoding": {
     "x": {"datum": 306.84, "type": "quantitative", "scale": {"domain": [0.34, 306.84], "nice": false, "zero": false}},
     "y": {"field": "v", "type": "quantitative", "title": null, "scale": {"domain": [-14.3, 114.3], "nice": false, "zero": false}},
     "text": {"field": "v", "type": "quantitative"}}}
 ]
}
]
}
